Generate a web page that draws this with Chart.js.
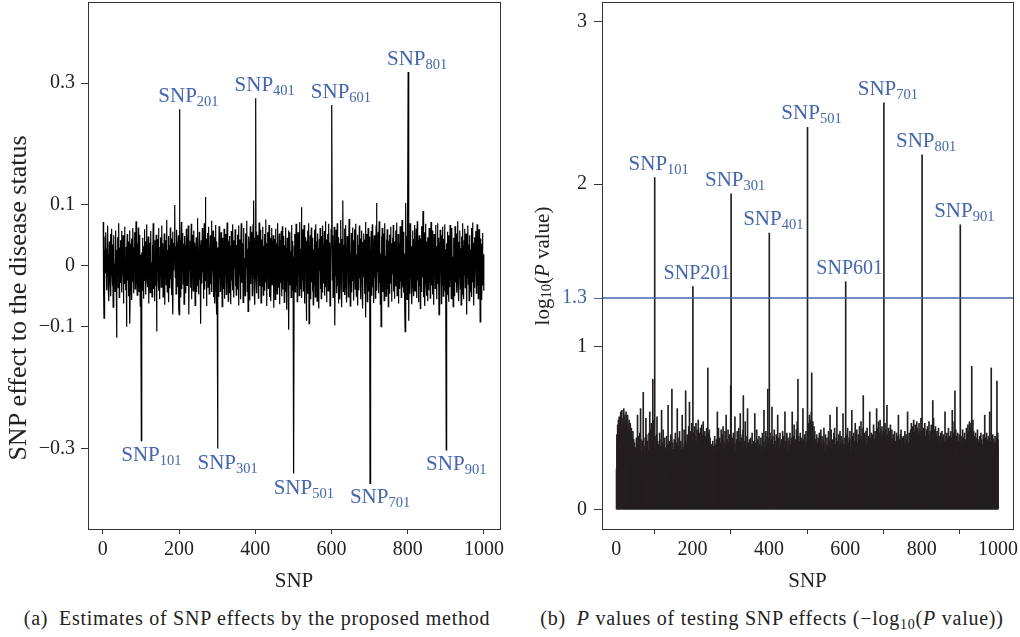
<!DOCTYPE html>
<html>
<head>
<meta charset="utf-8">
<script src="https://cdn.jsdelivr.net/npm/chart.js@4.4.1/dist/chart.umd.min.js"></script>
<style>
	html, body { margin: 0; padding: 0; background: #fff; }
	body { width: 1020px; height: 637px; position: relative; overflow: hidden; font-family: 'Liberation Serif', serif; color: #222; }
	.panel { position: absolute; top: 0; width: 510px; height: 600px; }
	.caption { position: absolute; top: 607px; font-size: 20px; letter-spacing: 0.75px; white-space: nowrap; transform: translateX(-50%); }
	.caption sub { font-size: 0.7em; vertical-align: -0.3em; line-height: 0; }
</style>
</head>
<body>
<div class="panel" style="left:0"><canvas id="effectChart" width="510" height="600"></canvas></div>
<div class="panel" style="left:510px"><canvas id="pvalueChart" width="510" height="600"></canvas></div>
<div class="caption" style="left:257px">(a)&ensp;Estimates of SNP effects by the proposed method</div>
<div class="caption" style="left:772px">(b)&ensp;<i>P</i> values of testing SNP effects (−log<sub>10</sub>(<i>P</i> value))</div>
<script>
// SNP number on the x axis: 1 .. 1000
const snpIds = Array.from({length: 1000}, (_, i) => i + 1);

// (a) estimated effect of each SNP, in units of 0.001
const effectMilli = [
	72,-45,-86,25,-30,48,-12,55,10,-40,28,-8,66,-35,18,-58,40,6,-22,52,-50,14,61,-5,-33,35,-68,12,50,-25,4,-42,30,58,-18,-118,26,-10,47,-36,15,70,-52,30,-6,42,-28,9,57,-44,
	20,-15,50,-62,33,-5,64,-30,11,-40,31,-100,17,52,-24,40,-9,-50,26,58,-95,-34,36,-3,45,-56,22,-26,62,8,-45,30,-16,55,-38,13,73,-30,5,-48,36,-20,63,-8,-42,28,51,-66,18,-28,
	-287,22,-40,46,-12,32,-54,16,60,-25,40,-5,-47,29,68,-20,10,-35,48,-62,24,-10,38,-44,19,57,-30,6,-51,34,-16,70,-38,23,-3,-58,42,12,-33,51,-108,26,-8,44,-23,62,-41,17,-55,31,
	-12,47,-35,9,66,-27,37,-51,20,-5,53,-64,30,-18,42,-31,14,75,-43,26,-10,49,-60,34,3,-37,63,-22,45,-48,17,-29,56,-80,38,-8,22,67,100,-19,32,-46,12,59,-34,40,-14,50,-70,-80,
	257,-26,43,-52,15,72,-38,25,-10,54,-30,36,-63,11,49,-22,33,-45,61,5,-32,46,-15,66,-50,-80,29,-7,41,-36,18,69,-55,23,-20,51,-41,10,58,-28,38,-65,31,-3,47,-43,16,78,-33,26,
	-47,21,56,-23,35,-59,-95,42,13,-29,62,-11,33,-54,24,70,-39,8,113,-25,45,-66,27,-6,54,-35,17,64,-46,31,-15,50,-30,11,74,-43,21,-9,58,-51,37,-20,47,-62,25,67,-33,-80,40,-26,
	-300,30,-50,18,65,-21,39,-42,11,55,-31,25,-67,46,-7,35,-38,61,14,-54,28,-12,52,-47,20,71,-29,9,-58,41,-16,49,-45,33,4,-63,57,-24,22,-40,68,-13,42,-52,28,-4,60,-33,16,-48,
	34,-19,51,-39,25,66,-65,43,-15,31,-55,19,70,-28,47,-10,37,-60,22,62,-36,13,-49,53,-24,33,-3,74,-42,28,-75,48,-17,40,-57,15,65,-30,36,-11,55,-49,25,68,-21,107,-37,46,-64,32,
	275,-14,56,-45,29,-7,50,-53,20,71,-33,40,-19,59,-61,24,43,-34,11,64,-48,33,-13,52,-41,20,76,-27,37,-66,28,-5,55,-37,16,67,-51,31,-22,46,-58,13,62,-31,41,-10,50,-69,23,-16,
	44,-55,28,61,-25,37,-46,18,70,-35,32,-11,53,-63,22,42,-28,57,-50,14,65,-39,26,-20,49,-60,34,7,-43,63,-16,29,-72,46,-25,17,58,-105,38,-32,55,-12,24,-52,67,-22,41,-40,15,-57,
	-341,33,-26,52,-43,20,69,-33,38,-59,25,55,-17,43,-49,9,72,-37,28,-13,96,-53,35,-23,60,-41,16,67,-62,31,-5,47,-29,-90,41,-20,58,-46,23,70,-95,34,-14,50,-55,20,63,-27,37,-42,
	46,-64,27,11,-34,59,-51,22,68,-25,40,-58,16,53,-32,29,-70,44,-8,62,-38,24,-54,49,18,-44,66,-28,35,-16,57,-49,14,73,-35,31,-60,43,-22,52,-41,25,69,-31,38,-66,20,-11,60,100,
	264,-23,50,-52,33,-9,64,-37,-98,41,-17,59,-45,26,70,-33,20,-62,47,-14,37,-55,31,75,-27,44,-68,23,-6,107,-42,34,-20,61,-48,17,67,-35,29,-60,49,-11,40,-51,24,77,-31,36,-66,19,
	-15,54,-44,27,63,-25,42,-57,21,-7,60,-38,32,69,-50,18,-29,51,-65,34,14,-40,66,-21,45,-55,25,-10,58,-34,39,-70,28,53,-18,43,-46,16,72,-85,33,-26,52,-59,23,62,-42,35,-12,48,
	-357,27,-32,57,-49,19,68,-35,40,-61,24,50,-20,44,-53,15,66,103,-41,31,-10,55,-45,25,73,-28,37,-63,20,-100,48,-24,62,-43,29,-8,53,-57,35,70,-33,17,-50,43,-15,60,-38,23,-67,41,
	-19,51,-46,32,64,-29,37,-59,21,46,-14,67,-42,27,-54,40,-6,58,-34,18,71,-49,30,-23,52,-62,36,10,-38,65,-26,43,-52,24,75,-35,32,-17,56,-44,20,-68,-108,38,103,-30,49,-55,28,62,
	318,-27,-90,41,-46,70,-21,53,-37,32,-63,23,58,-32,44,-50,17,67,-41,35,-11,61,-53,26,73,-24,42,-60,20,50,-34,29,-70,45,14,-43,65,-18,37,90,-51,24,-28,55,-66,34,69,-23,40,-49,
	30,-58,47,18,-40,62,-27,43,-53,23,72,-32,35,-15,58,-47,27,-64,52,-9,41,-37,67,-24,32,-55,21,70,-30,46,-18,-80,38,-43,59,-12,32,-62,50,24,-33,64,-50,20,44,-29,68,-41,27,-21,
	-302,37,-47,56,-17,30,-59,50,20,-35,67,-24,41,-54,26,62,-41,15,-67,46,-11,36,-50,65,-27,32,-6,53,-44,24,73,-32,39,-58,18,-20,58,-38,29,-64,48,12,-46,70,-26,33,-55,42,-15,61,
	-36,24,53,-50,-80,41,-21,66,-30,35,-57,20,50,-42,27,-12,62,-51,32,71,-27,38,-65,17,47,-36,29,-8,57,-45,23,68,-33,41,-54,15,60,-24,32,-92,45,-18,36,-56,24,54,-32,19,-41,9
];

// (b) -log10(P value) of each SNP, in units of 0.01
const logPCenti = [
	25,46,40,52,44,55,38,57,47,53,35,60,50,42,61,52,33,56,45,62,40,54,58,37,50,60,44,55,39,58,52,46,34,55,49,41,53,45,38,50,30,44,39,48,34,43,27,41,37,31,
	38,24,44,31,40,58,35,45,28,41,33,47,23,62,43,29,36,22,42,32,72,27,39,35,19,44,30,56,25,46,34,42,28,21,37,47,32,60,26,49,36,53,30,44,39,80,48,55,41,35,
	204,45,31,38,27,46,57,21,42,29,40,36,25,47,32,22,39,43,61,35,19,41,49,26,37,31,44,23,38,34,29,45,33,18,40,64,27,36,42,25,39,30,46,35,24,74,32,41,28,37,
	20,43,34,30,47,25,38,41,17,62,29,44,32,39,26,48,35,22,42,31,37,27,58,40,24,38,33,49,30,36,43,73,28,41,34,46,23,39,37,51,32,66,26,40,48,35,29,53,38,42,
	137,40,47,34,51,38,45,30,53,42,36,49,28,44,55,39,33,47,41,26,50,37,43,52,31,46,39,54,35,42,29,48,40,45,37,32,50,43,38,87,41,47,34,49,30,44,38,36,27,40,
	33,28,42,35,24,39,31,45,37,21,40,34,43,29,60,36,25,50,38,32,44,27,41,35,49,30,39,46,33,51,26,42,37,31,48,40,34,58,28,38,43,23,49,36,41,30,46,35,39,76,
	194,37,31,44,39,26,47,34,41,29,57,36,22,40,43,33,48,28,38,35,50,31,42,37,59,46,39,32,44,30,36,49,70,35,42,28,40,54,37,45,33,39,31,62,35,41,27,38,43,32,
	29,44,36,23,40,47,33,38,20,42,35,30,59,39,27,41,34,49,37,31,43,25,38,45,32,40,28,36,44,22,39,33,47,30,41,35,61,37,26,42,34,48,39,31,45,36,74,40,33,44,
	170,34,47,39,30,43,37,63,32,45,28,40,36,49,31,42,38,25,46,33,41,35,58,29,39,44,27,37,47,34,40,21,43,36,31,48,39,33,45,30,38,60,35,42,26,40,47,32,37,44,
	35,29,42,38,47,33,40,26,44,36,60,31,39,45,34,52,37,28,43,40,32,49,36,54,41,80,38,45,33,42,30,47,35,39,44,27,41,37,62,32,43,36,29,46,39,34,48,31,42,38,
	235,46,39,53,44,58,50,41,55,47,60,84,49,42,54,37,45,51,40,48,34,43,38,31,46,36,41,28,44,33,39,47,30,42,35,49,32,40,45,27,38,43,34,50,36,29,41,46,33,39,
	31,44,37,40,26,48,34,42,29,58,38,32,49,36,41,25,43,39,30,47,35,50,33,40,28,44,37,63,32,42,36,29,46,39,34,48,31,41,45,27,38,43,35,59,30,40,37,33,44,36,
	140,39,30,46,35,50,28,41,37,44,32,48,36,29,43,39,61,34,45,31,40,47,27,42,38,53,35,44,30,49,37,41,33,46,39,28,51,36,43,32,54,38,45,40,34,50,70,42,36,47,
	37,43,31,48,39,34,50,36,42,28,45,40,33,60,37,44,30,47,35,41,27,46,38,52,34,43,39,48,31,45,40,62,36,50,42,38,54,44,47,41,55,39,49,43,37,51,45,40,48,42,
	250,47,41,53,37,49,44,40,64,36,46,42,50,34,48,39,45,52,38,43,35,49,41,30,46,37,44,33,48,40,28,42,36,47,31,45,39,34,58,37,43,29,41,46,35,49,38,32,44,40,
	36,45,31,42,39,48,33,40,46,28,43,37,60,35,41,32,47,39,44,30,49,38,53,42,36,51,45,40,55,43,48,37,52,41,46,39,54,44,50,42,47,40,53,38,49,45,41,56,43,48,
	218,44,39,50,36,47,41,53,38,45,32,49,42,35,51,39,46,37,54,43,40,48,34,45,52,41,38,47,67,43,56,36,49,42,39,51,34,46,41,48,37,44,30,50,39,45,36,42,33,47,
	40,35,48,31,44,38,46,27,42,36,60,33,41,45,30,47,37,43,34,50,39,28,45,41,36,48,32,44,39,61,35,42,47,38,54,40,73,43,49,37,45,33,41,47,36,42,30,46,39,44,
	175,38,45,33,42,36,49,30,44,39,35,47,41,28,43,37,50,34,46,40,52,42,48,39,54,45,50,41,53,47,88,49,44,55,40,48,37,45,42,34,47,39,32,44,38,49,35,41,30,43,
	37,45,32,41,47,35,43,28,40,38,46,33,42,36,58,31,44,39,34,47,40,29,43,37,45,32,41,60,35,42,38,87,44,36,30,46,39,43,34,41,37,45,33,40,42,44,79,39,47,43
];

const snpTicks = [0, 200, 400, 600, 800, 1000];
const effectTicks = [-0.3, -0.1, 0, 0.1, 0.3];
const logPTicks = [0, 1, 1.3, 2, 3];
const causalSnps = [101, 201, 301, 401, 501, 601, 701, 801, 901];
const plainLabelSnps = [201, 601];   // written as "SNP201" in panel (b)
const threshold = 1.3;               // -log10(0.05)

const FONT = "'Liberation Serif', serif";
const INK = '#222';
const FRAME = '#333';
const BLUE = '#4565ad';

// label "SNP" with the number as subscript (or plain)
function drawSnpLabel(ctx, id, cx, baseline, plain) {
	ctx.save();
	ctx.fillStyle = BLUE;
	ctx.textAlign = 'left';
	ctx.textBaseline = 'alphabetic';
	const main = plain ? 'SNP' + id : 'SNP';
	ctx.font = (plain ? '20px ' : '21px ') + FONT;
	const w1 = ctx.measureText(main).width;
	let w2 = 0;
	if (!plain) {
		ctx.font = '14.5px ' + FONT;
		w2 = ctx.measureText(String(id)).width;
	}
	const x0 = cx - (w1 + w2) / 2;
	ctx.font = (plain ? '20px ' : '21px ') + FONT;
	ctx.fillText(main, x0, baseline);
	if (!plain) {
		ctx.font = '14.5px ' + FONT;
		ctx.fillText(String(id), x0 + w1, baseline + 4);
	}
	ctx.restore();
}

// drop the label overflow padding so the plot box sits where we put it
function noScalePadding(scale) {
	scale.paddingTop = 0;
	scale.paddingBottom = 0;
	scale.paddingLeft = 0;
	scale.paddingRight = 0;
}

// box around the plot area + x title
const framePlugin = {
	id: 'frame',
	afterDraw(chart) {
		const {ctx, chartArea: a} = chart;
		ctx.save();
		ctx.strokeStyle = FRAME;
		ctx.lineWidth = 1;
		ctx.strokeRect(Math.round(a.left) + 0.5, Math.round(a.top) + 0.5, Math.round(a.right - a.left), Math.round(a.bottom - a.top));
		ctx.fillStyle = INK;
		ctx.font = '21px ' + FONT;
		ctx.textAlign = 'center';
		ctx.textBaseline = 'alphabetic';
		ctx.fillText('SNP', (a.left + a.right) / 2, a.bottom + 58);
		ctx.restore();
	}
};

function snpScale(min, max) {
	return {
		type: 'linear',
		min: min,
		max: max,
		offset: false,
		afterBuildTicks(scale) { scale.ticks = snpTicks.map(v => ({value: v})); },
		afterFit(scale) { scale.height = 71; noScalePadding(scale); },
		border: {display: false},
		grid: {drawOnChartArea: false, drawTicks: true, tickLength: 5, color: FRAME},
		ticks: {autoSkip: false, maxRotation: 0, padding: 4, color: INK, font: {family: FONT, size: 20}, callback: v => String(v)}
	};
}

// (a) effect estimates drawn as a line
const effectCtx = document.getElementById('effectChart').getContext('2d');
new Chart(effectCtx, {
	type: 'line',
	data: {
		datasets: [{
			data: snpIds.map((id, i) => ({x: id, y: effectMilli[i] / 1000})),
			borderColor: '#000',
			borderWidth: 1.2,
			pointRadius: 0,
			tension: 0
		}]
	},
	options: {
		responsive: false,
		animation: false,
		layout: {padding: {top: 2, right: 10, left: 0, bottom: 0}},
		plugins: {legend: {display: false}, tooltip: {enabled: false}},
		scales: {
			x: snpScale(-39, 1042),
			y: {
				type: 'linear',
				min: -0.432,
				max: 0.433,
				afterBuildTicks(scale) { scale.ticks = effectTicks.map(v => ({value: v})); },
				afterFit(scale) { scale.width = 88; noScalePadding(scale); },
				border: {display: false},
				grid: {drawOnChartArea: false, drawTicks: true, tickLength: 7, color: FRAME},
				ticks: {
					padding: 6,
					color: INK,
					font: {family: FONT, size: 20},
					callback: v => v < 0 ? '\u2212' + Math.abs(v) : String(v)
				}
			}
		}
	},
	plugins: [
		framePlugin,
		{
			id: 'effectLabels',
			afterDraw(chart) {
				const {ctx, scales: {x, y}} = chart;
				ctx.save();
				// y title
				ctx.translate(19, 298);
				ctx.rotate(-Math.PI / 2);
				ctx.fillStyle = INK;
				ctx.font = '26px ' + FONT;
				ctx.textAlign = 'center';
				ctx.textBaseline = 'middle';
				ctx.fillText('SNP effect to the disease status', 0, 0);
				ctx.restore();
				causalSnps.forEach(id => {
					const v = effectMilli[id - 1] / 1000;
					const px = x.getPixelForValue(id);
					const py = y.getPixelForValue(v);
					if (v > 0) {
						drawSnpLabel(ctx, id, px + 9, py - 7, false);
					} else {
						drawSnpLabel(ctx, id, px + 10, py + 20, false);
					}
				});
			}
		}
	]
});

// (b) -log10(P value) drawn as thin bars
const pvalueCtx = document.getElementById('pvalueChart').getContext('2d');
new Chart(pvalueCtx, {
	type: 'bar',
	data: {
		datasets: [{
			data: snpIds.map((id, i) => ({x: id, y: logPCenti[i] / 100})),
			backgroundColor: '#231f20',
			borderWidth: 0,
			barThickness: 1
		}]
	},
	options: {
		responsive: false,
		animation: false,
		layout: {padding: {top: 2, right: 7, left: 0, bottom: 0}},
		plugins: {legend: {display: false}, tooltip: {enabled: false}},
		scales: {
			x: snpScale(-37, 1039),
			y: {
				type: 'linear',
				min: -0.12,
				max: 3.12,
				afterBuildTicks(scale) { scale.ticks = logPTicks.map(v => ({value: v})); },
				afterFit(scale) { scale.width = 92; noScalePadding(scale); },
				border: {display: false},
				grid: {
					drawOnChartArea: false, drawTicks: true, tickLength: 8,
					color: c => c.tick && c.tick.value === threshold ? BLUE : FRAME
				},
				ticks: {
					padding: 7,
					font: {family: FONT, size: 20},
					color: c => c.tick && c.tick.value === threshold ? BLUE : INK,
					callback: v => String(v)
				}
			}
		}
	},
	plugins: [
		framePlugin,
		{
			id: 'pvalueLabels',
			afterDatasetsDraw(chart) {
				const {ctx, chartArea: a, scales: {y}} = chart;
				const ty = Math.round(y.getPixelForValue(threshold));
				ctx.save();
				ctx.strokeStyle = BLUE;
				ctx.lineWidth = 1.5;
				ctx.beginPath();
				ctx.moveTo(a.left, ty);
				ctx.lineTo(a.right, ty);
				ctx.stroke();
				ctx.restore();
			},
			afterDraw(chart) {
				const {ctx, scales: {x, y}} = chart;
				// y title: log10(P value)
				ctx.save();
				ctx.translate(33, 266);
				ctx.rotate(-Math.PI / 2);
				ctx.fillStyle = INK;
				ctx.textBaseline = 'middle';
				const parts = [
					{t: 'log', f: '21px ' + FONT, dy: 0},
					{t: '10', f: '14.5px ' + FONT, dy: 4},
					{t: '(', f: '21px ' + FONT, dy: 0},
					{t: 'P', f: 'italic 21px ' + FONT, dy: 0},
					{t: ' value)', f: '21px ' + FONT, dy: 0}
				];
				let total = 0;
				parts.forEach(p => { ctx.font = p.f; p.w = ctx.measureText(p.t).width; total += p.w; });
				let cx = -total / 2;
				ctx.textAlign = 'left';
				parts.forEach(p => { ctx.font = p.f; ctx.fillText(p.t, cx, p.dy); cx += p.w; });
				ctx.restore();
				causalSnps.forEach(id => {
					const v = logPCenti[id - 1] / 100;
					const px = x.getPixelForValue(id);
					const py = y.getPixelForValue(v);
					drawSnpLabel(ctx, id, px + 4, py - 8, plainLabelSnps.includes(id));
				});
			}
		}
	]
});
</script>
</body>
</html>
